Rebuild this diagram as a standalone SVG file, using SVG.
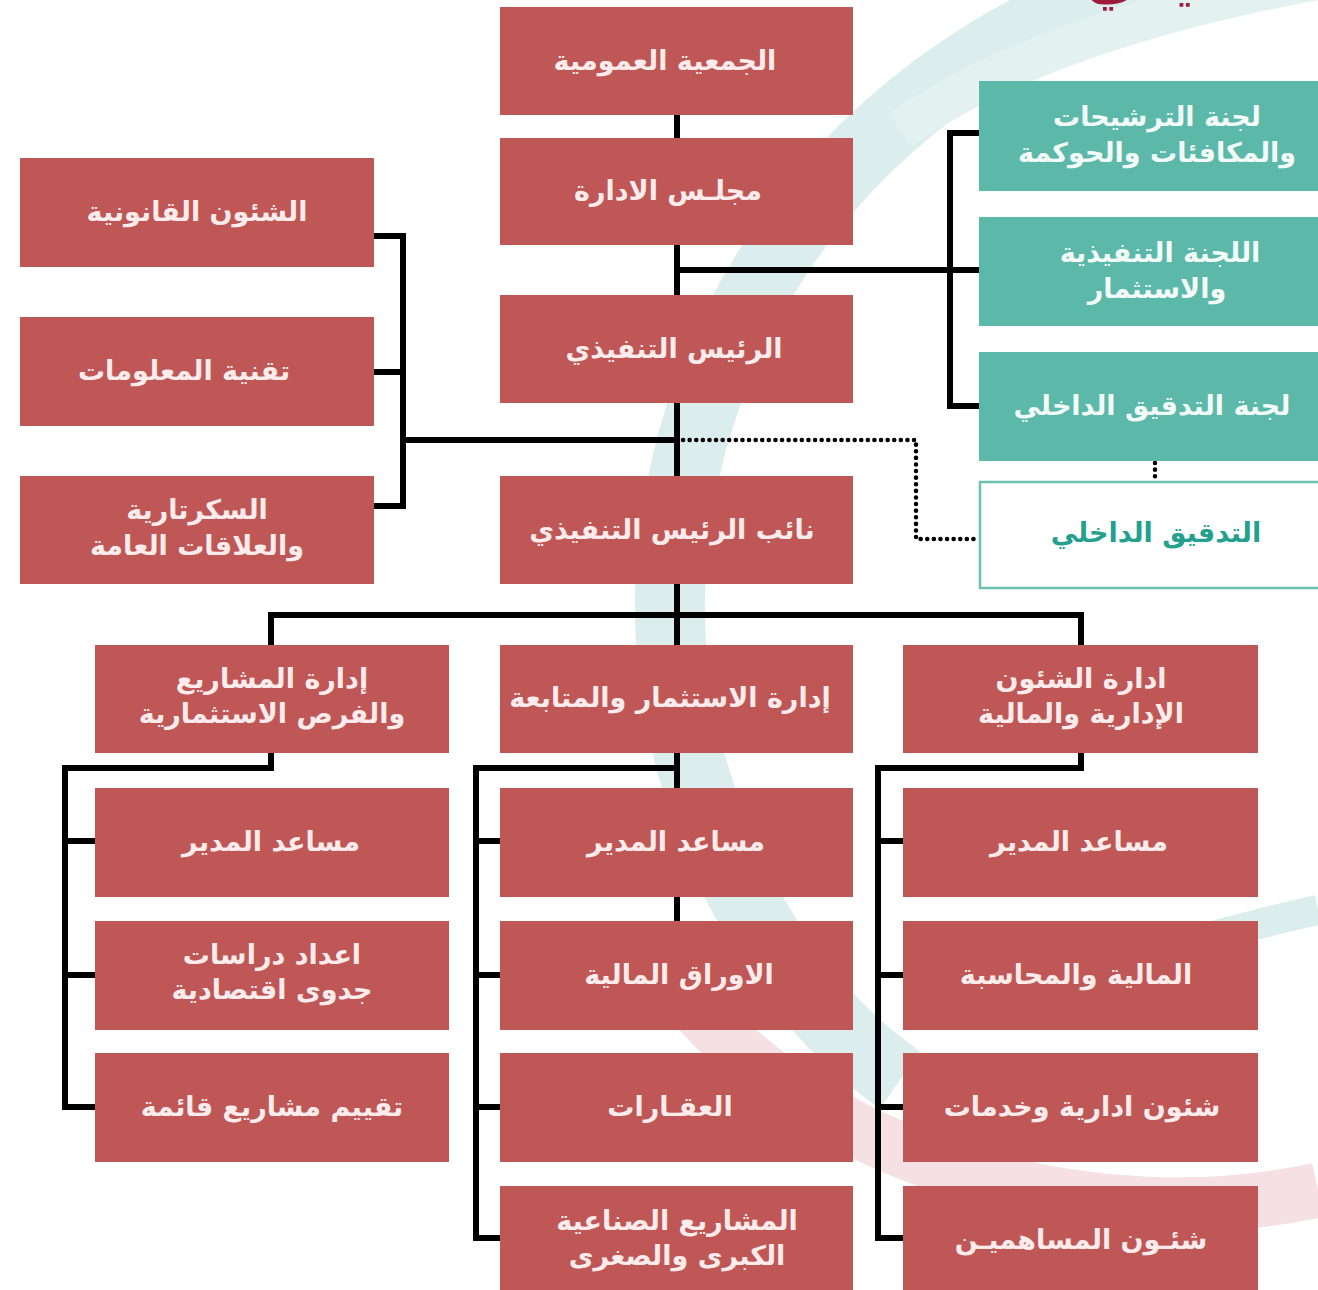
<svg xmlns="http://www.w3.org/2000/svg" width="1318" height="1290" viewBox="0 0 1318 1290">
<style>
.box{fill:#bf5757;}
.tbox{fill:#5cb8a8;}
.wbox{fill:#ffffff;stroke:#6dc1b3;stroke-width:2.5;}
.lbl{font-family:"DejaVu Sans",sans-serif;font-weight:bold;font-size:27px;fill:#fdeceb;text-anchor:middle;direction:rtl;}
.tl{fill:#f3fbf9;}
.al{fill:#24a08e;}
.ln{fill:none;stroke:#000;stroke-width:6;stroke-linecap:square;stroke-linejoin:miter;}
.dot{fill:none;stroke:#000;stroke-width:4.5;stroke-linecap:round;stroke-dasharray:0.1 6.5;}
</style>
<rect x="0" y="0" width="1318" height="1290" fill="#ffffff"/>
<g id="background">
<path d="M1230,-40 C820,40 600,420 690,760 C730,900 800,1010 900,1080" fill="none" stroke="#dcedee" stroke-width="70"/>
<path d="M1318,-20 C1150,10 1000,60 900,130" fill="none" stroke="#e4f1f1" stroke-width="40"/>
<path d="M690,1000 C820,1160 1090,1240 1318,1190" fill="none" stroke="#f5e0e4" stroke-width="55"/>
<path d="M1120,960 C1200,940 1270,920 1318,910" fill="none" stroke="#dcedee" stroke-width="30"/>
<text x="1300" y="-2" style="font-family:'DejaVu Sans',sans-serif;font-weight:bold;font-size:52px;fill:#9e1c3b;text-anchor:middle;direction:rtl;">الهيكل التنظيمي</text>
</g>
<g id="connectors">
<path class="ln" d="M677,113 V921"/>
<path class="ln" d="M677,270 H979 M950,133 V406 M950,133 H979 M950,406 H979"/>
<path class="ln" d="M374,236 H403 V506 H374 M374,372 H403 M403,440 H677"/>
<path class="ln" d="M271,645 V615 H1081 V645"/>
<path class="ln" d="M271,753 V768 H65 V1107 H95 M65,841 H95 M65,975 H95"/>
<path class="ln" d="M677,753 V768 H476 V1238 H500 M476,841 H500 M476,975 H500 M476,1107 H500"/>
<path class="ln" d="M1081,753 V768 H878 V1238 H903 M878,841 H903 M878,975 H903 M878,1107 H903"/>
<path class="dot" d="M683,440 H916 V539 H978"/>
<path class="dot" d="M1155,463 V481"/>
</g>
<g id="n-general-assembly"><rect class="box" x="500" y="7" width="353" height="108"/><text class="lbl" x="665" y="70">الجمعية العمومية</text></g>
<g id="n-board"><rect class="box" x="500" y="138" width="353" height="107"/><text class="lbl" x="668" y="200">مجلـس الادارة</text></g>
<g id="n-ceo"><rect class="box" x="500" y="295" width="353" height="108"/><text class="lbl" x="674" y="358">الرئيس التنفيذي</text></g>
<g id="n-vice-ceo"><rect class="box" x="500" y="476" width="353" height="108"/><text class="lbl" x="672" y="539">نائب الرئيس التنفيذي</text></g>
<g id="n-invest-dept"><rect class="box" x="500" y="645" width="353" height="108"/><text class="lbl" x="670" y="707">إدارة الاستثمار والمتابعة</text></g>
<g id="n-c-assistant"><rect class="box" x="500" y="788" width="353" height="109"/><text class="lbl" x="676" y="851">مساعد المدير</text></g>
<g id="n-securities"><rect class="box" x="500" y="921" width="353" height="109"/><text class="lbl" x="679" y="984">الاوراق المالية</text></g>
<g id="n-realestate"><rect class="box" x="500" y="1053" width="353" height="109"/><text class="lbl" x="670" y="1116">العقـارات</text></g>
<g id="n-industrial"><rect class="box" x="500" y="1186" width="353" height="110"/><text class="lbl" x="677" y="1230">المشاريع الصناعية</text><text class="lbl" x="677" y="1265">الكبرى والصغرى</text></g>

<g id="n-legal"><rect class="box" x="20" y="158" width="354" height="109"/><text class="lbl" x="197" y="221">الشئون القانونية</text></g>
<g id="n-it"><rect class="box" x="20" y="317" width="354" height="109"/><text class="lbl" x="184" y="380">تقنية المعلومات</text></g>
<g id="n-secretariat"><rect class="box" x="20" y="476" width="354" height="108"/><text class="lbl" x="197" y="519">السكرتارية</text><text class="lbl" x="197" y="555">والعلاقات العامة</text></g>

<g id="n-projects-dept"><rect class="box" x="95" y="645" width="354" height="108"/><text class="lbl" x="272" y="688">إدارة المشاريع</text><text class="lbl" x="272" y="723">والفرص الاستثمارية</text></g>
<g id="n-l-assistant"><rect class="box" x="95" y="788" width="354" height="109"/><text class="lbl" x="271" y="851">مساعد المدير</text></g>
<g id="n-feasibility"><rect class="box" x="95" y="921" width="354" height="109"/><text class="lbl" x="272" y="964">اعداد دراسات</text><text class="lbl" x="272" y="999">جدوى اقتصادية</text></g>
<g id="n-evaluation"><rect class="box" x="95" y="1053" width="354" height="109"/><text class="lbl" x="272" y="1116">تقييم مشاريع قائمة</text></g>

<g id="n-admin-dept"><rect class="box" x="903" y="645" width="355" height="108"/><text class="lbl" x="1081" y="688">ادارة الشئون</text><text class="lbl" x="1081" y="723">الإدارية والمالية</text></g>
<g id="n-r-assistant"><rect class="box" x="903" y="788" width="355" height="109"/><text class="lbl" x="1079" y="851">مساعد المدير</text></g>
<g id="n-finance"><rect class="box" x="903" y="921" width="355" height="109"/><text class="lbl" x="1076" y="984">المالية والمحاسبة</text></g>
<g id="n-services"><rect class="box" x="903" y="1053" width="355" height="109"/><text class="lbl" x="1082" y="1116">شئون ادارية وخدمات</text></g>
<g id="n-shareholders"><rect class="box" x="903" y="1186" width="355" height="110"/><text class="lbl" x="1081" y="1249">شئـون المساهميـن</text></g>

<g id="n-nominations"><rect class="tbox" x="979" y="81" width="345" height="110"/><text class="lbl tl" x="1157" y="126">لجنة الترشيحات</text><text class="lbl tl" x="1157" y="162">والمكافئات والحوكمة</text></g>
<g id="n-exec-committee"><rect class="tbox" x="979" y="217" width="345" height="109"/><text class="lbl tl" x="1160" y="262">اللجنة التنفيذية</text><text class="lbl tl" x="1157" y="298">والاستثمار</text></g>
<g id="n-audit-committee"><rect class="tbox" x="979" y="352" width="345" height="109"/><text class="lbl tl" x="1152" y="415">لجنة التدقيق الداخلي</text></g>
<g id="n-internal-audit"><rect class="wbox" x="980" y="482" width="345" height="106"/><text class="lbl al" x="1156" y="542">التدقيق الداخلي</text></g>
</svg>
